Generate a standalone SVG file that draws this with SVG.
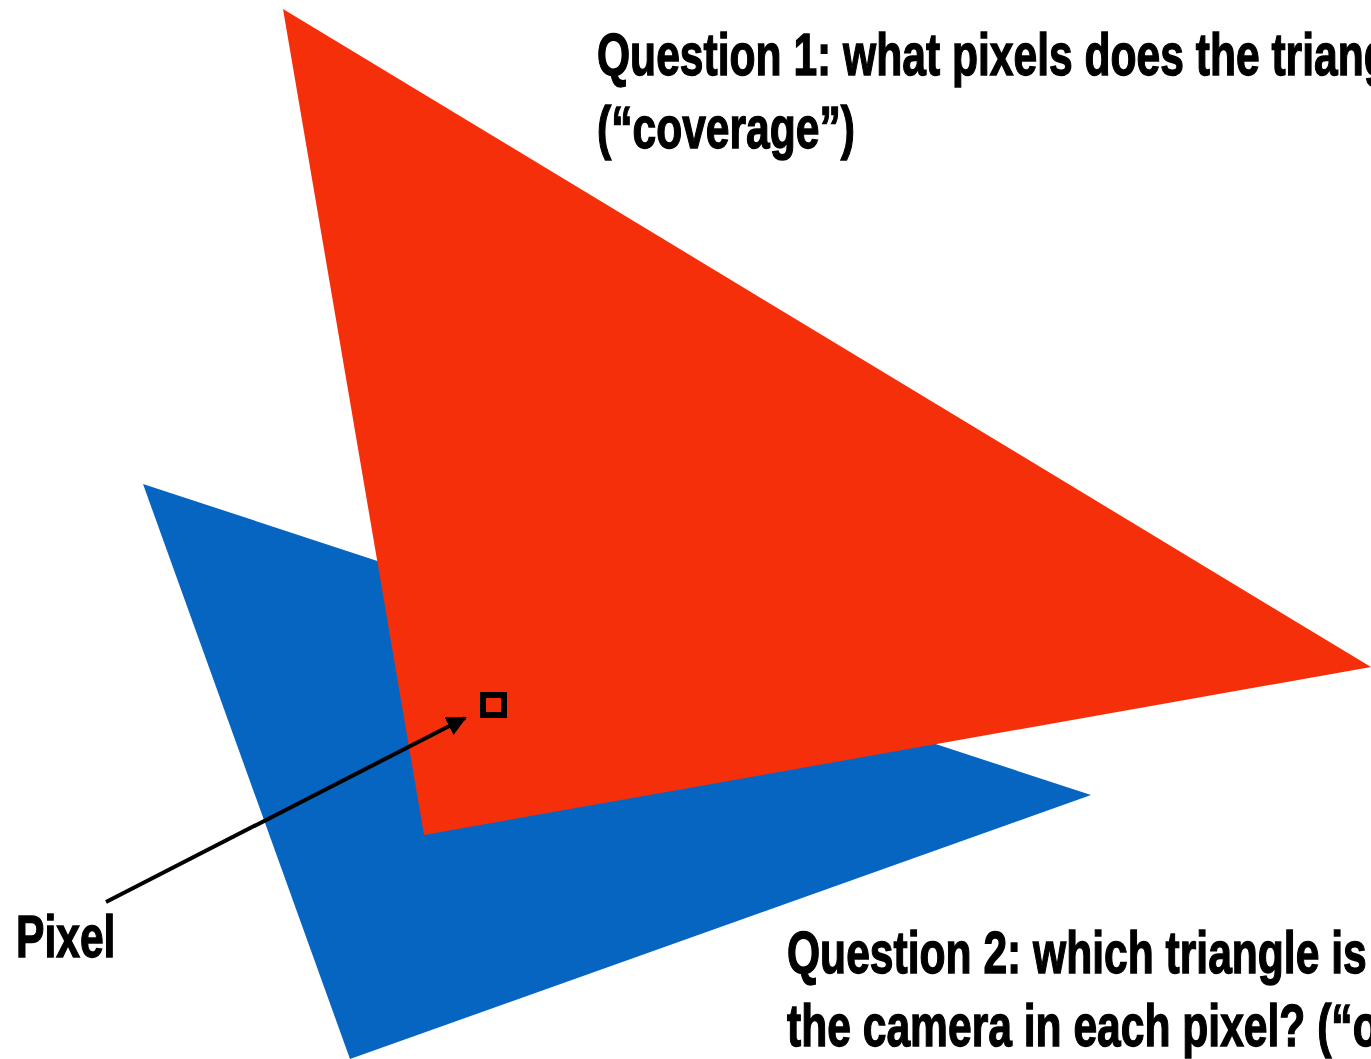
<svg xmlns="http://www.w3.org/2000/svg" width="1371" height="1059" viewBox="0 0 1371 1059">
<defs>
<style>
.t{font-family:"Liberation Sans",Arial,sans-serif;font-weight:bold;font-size:60px;fill:#000;stroke:#000;stroke-width:1.4px}
</style>
<marker id="ah" viewBox="0 0 10 10" refX="9" refY="5" markerWidth="5" markerHeight="5" orient="auto" markerUnits="strokeWidth">
<path d="M0,0 L10,5 L0,10 z" fill="#000"/>
</marker>
</defs>
<rect width="1371" height="1059" fill="#fff"/>
<g id="blue-triangle"><polygon points="143,484 1091,795 350,1059" fill="#0565C0"/></g>
<g id="red-triangle"><polygon points="283,9 1371,667 424,835" fill="#F52F0A"/></g>
<g id="pixel"><rect x="483" y="695" width="21" height="20" fill="none" stroke="#000" stroke-width="6"/></g>
<g id="connectors"><line x1="106" y1="902" x2="465" y2="718" stroke="#000" stroke-width="4" marker-end="url(#ah)"/></g>
<g id="label-pixel"><text class="t" transform="translate(16,957) scale(0.71,1)">Pixel</text></g>
<g id="question1">
<text class="t" transform="translate(597,75) scale(0.71,1)">Question 1: what pixels does the triangle overlap?</text>
<text class="t" transform="translate(597,148) scale(0.71,1)">(“coverage”)</text>
</g>
<g id="question2">
<text class="t" transform="translate(787,973) scale(0.71,1)">Question 2: which triangle is closest to</text>
<text class="t" transform="translate(787,1046) scale(0.71,1)">the camera in each pixel? (“occlusion”)</text>
</g>
</svg>
